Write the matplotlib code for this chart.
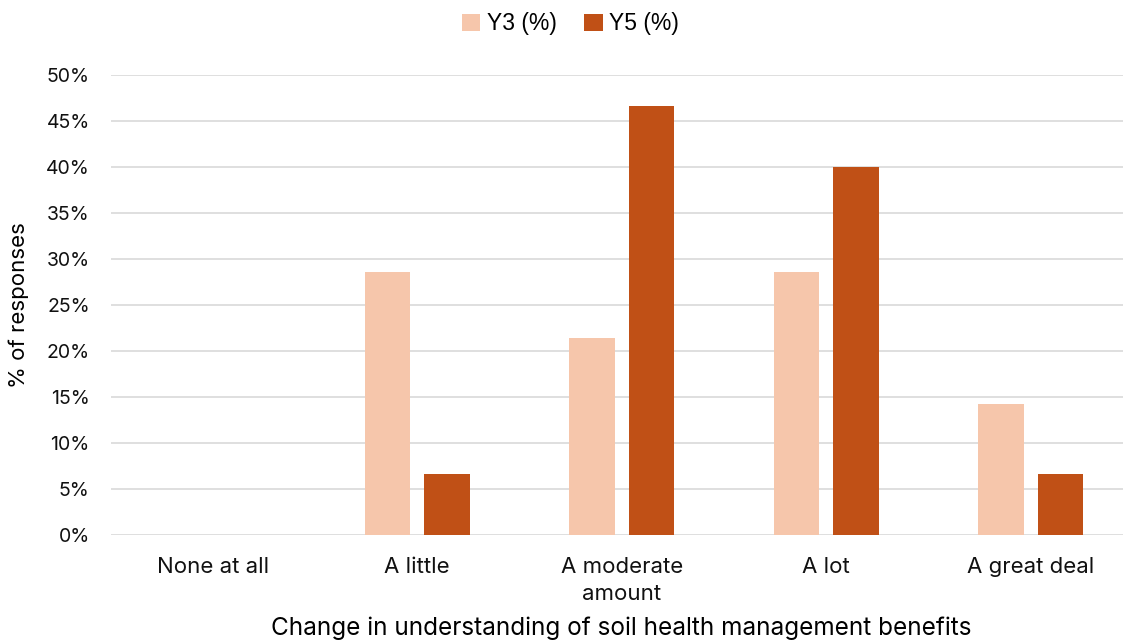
import numpy as np
import matplotlib.pyplot as plt

categories = ["None at all", "A little", "A moderate\namount", "A lot", "A great deal"]
y3_pct = [0, 28.57, 21.43, 28.57, 14.29]
y5_pct = [0, 6.67, 46.67, 40.0, 6.67]
series_names = ["Y3 (%)", "Y5 (%)"]
y_ticks = [0, 5, 10, 15, 20, 25, 30, 35, 40, 45, 50]

light = "#F6C6AB"
dark = "#C05016"

fig = plt.figure(figsize=(11.23, 6.44), dpi=100)
ax = fig.add_axes([0.0984, 0.1693, 0.9105, 0.7142])

x = np.arange(len(categories))
w = 0.223
b1 = ax.bar(x - 0.145, y3_pct, w, color=light, label=series_names[0], zorder=3)
b2 = ax.bar(x + 0.145, y5_pct, w, color=dark, label=series_names[1], zorder=3)

ax.set_xlim(-0.5, len(categories) - 0.5)
ax.set_ylim(0, 50)
ax.set_yticks(y_ticks)
ax.set_yticklabels([f"{t}%" for t in y_ticks])
ax.set_xticks(x)
ax.set_xticklabels(categories, linespacing=1.45)
ax.grid(axis="y", color="#D9D9D9", linewidth=1.2, zorder=0)
for s in ax.spines.values():
    s.set_visible(False)
ax.tick_params(axis="y", length=0, labelsize=14, colors="#111111", pad=15)
ax.tick_params(axis="x", length=0, labelsize=16, colors="#111111", pad=16)
for lbl in ax.get_xticklabels() + ax.get_yticklabels():
    lbl.set_fontfamily("Inter")

ax.set_ylabel("% of responses", fontsize=16, family="Inter", labelpad=12)
ax.set_xlabel("Change in understanding of soil health management benefits",
              fontsize=17.5, family="Inter", labelpad=9)

fig.legend(handles=[b1, b2], loc="upper center", bbox_to_anchor=(0.508, 1.013),
           ncol=2, frameon=False, prop={"family": "Liberation Sans", "size": 16.5},
           handlelength=0.8, handleheight=0.8, handletextpad=0.3, columnspacing=1.2)

fig.savefig("out.png", dpi=100)
